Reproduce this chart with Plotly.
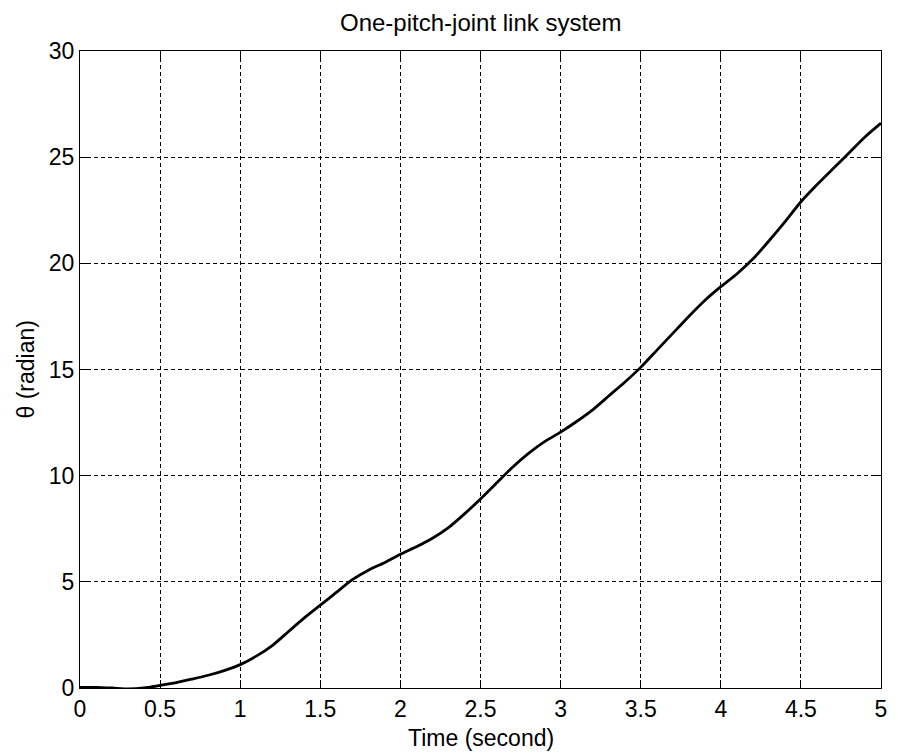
import plotly.graph_objects as go

# Joint angle response of the one-pitch-joint link
time_s = [0.0, 0.1, 0.2, 0.3, 0.4, 0.5, 0.6, 0.7, 0.8, 0.9,
          1.0, 1.1, 1.2, 1.3, 1.4, 1.5, 1.6, 1.7, 1.8, 1.9,
          2.0, 2.1, 2.2, 2.3, 2.4, 2.5, 2.6, 2.7, 2.8, 2.9,
          3.0, 3.1, 3.2, 3.3, 3.4, 3.5, 3.6, 3.7, 3.8, 3.9,
          4.0, 4.1, 4.2, 4.3, 4.4, 4.5, 4.6, 4.7, 4.8, 4.9, 5.0]
theta_rad = [0.03, 0.03, 0.0, -0.04, 0.0, 0.12, 0.25, 0.42, 0.6, 0.82,
             1.1, 1.5, 2.0, 2.65, 3.3, 3.9, 4.5, 5.1, 5.55, 5.9,
             6.3, 6.65, 7.05, 7.55, 8.2, 8.9, 9.65, 10.4, 11.05, 11.6,
             12.05, 12.55, 13.1, 13.75, 14.4, 15.1, 15.9, 16.7, 17.5, 18.25,
             18.9, 19.5, 20.2, 21.05, 21.95, 22.9, 23.7, 24.45, 25.2, 25.95, 26.6]

x_ticks = [0, 0.5, 1, 1.5, 2, 2.5, 3, 3.5, 4, 4.5, 5]
x_tick_labels = ["0", "0.5", "1", "1.5", "2", "2.5", "3", "3.5", "4", "4.5", "5"]
y_ticks = [0, 5, 10, 15, 20, 25, 30]
y_tick_labels = ["0", "5", "10", "15", "20", "25", "30"]

FONT = "Liberation Sans, Arial, Helvetica, sans-serif"

fig = go.Figure()
fig.add_trace(go.Scatter(
    x=time_s, y=theta_rad, mode="lines",
    line=dict(color="black", width=2.8, shape="spline", smoothing=0.6),
    showlegend=False,
))

axis_common = dict(
    showline=True, linecolor="black", linewidth=1, mirror="ticks",
    ticks="inside", ticklen=8, tickcolor="black", tickwidth=1,
    showgrid=True, gridcolor="black", gridwidth=1, griddash="4px,3px",
    zeroline=False,
    tickfont=dict(family=FONT, size=23, color="black"),
)

fig.update_xaxes(range=[0, 5], tickvals=x_ticks, ticktext=x_tick_labels, **axis_common)
fig.update_yaxes(range=[0, 30], tickvals=y_ticks, ticktext=y_tick_labels, **axis_common)

fig.update_layout(
    width=898, height=756,
    margin=dict(l=80, r=11, t=51, b=68),
    paper_bgcolor="white", plot_bgcolor="white",
    font=dict(family=FONT, color="black"),
    annotations=[
        dict(text="One-pitch-joint link system", xref="paper", yref="paper",
             x=0.5, y=1, yanchor="middle", yshift=29, showarrow=False,
             font=dict(family=FONT, size=24, color="black")),
        dict(text="Time (second)", xref="paper", yref="paper",
             x=0.5, y=0, yanchor="middle", yshift=-50, showarrow=False,
             font=dict(family=FONT, size=23, color="black")),
        dict(text="θ (radian)", xref="paper", yref="paper",
             x=0, y=0.5, xanchor="center", xshift=-55, textangle=-90, showarrow=False,
             font=dict(family=FONT, size=23, color="black")),
    ],
)

fig.write_html("out.html")
